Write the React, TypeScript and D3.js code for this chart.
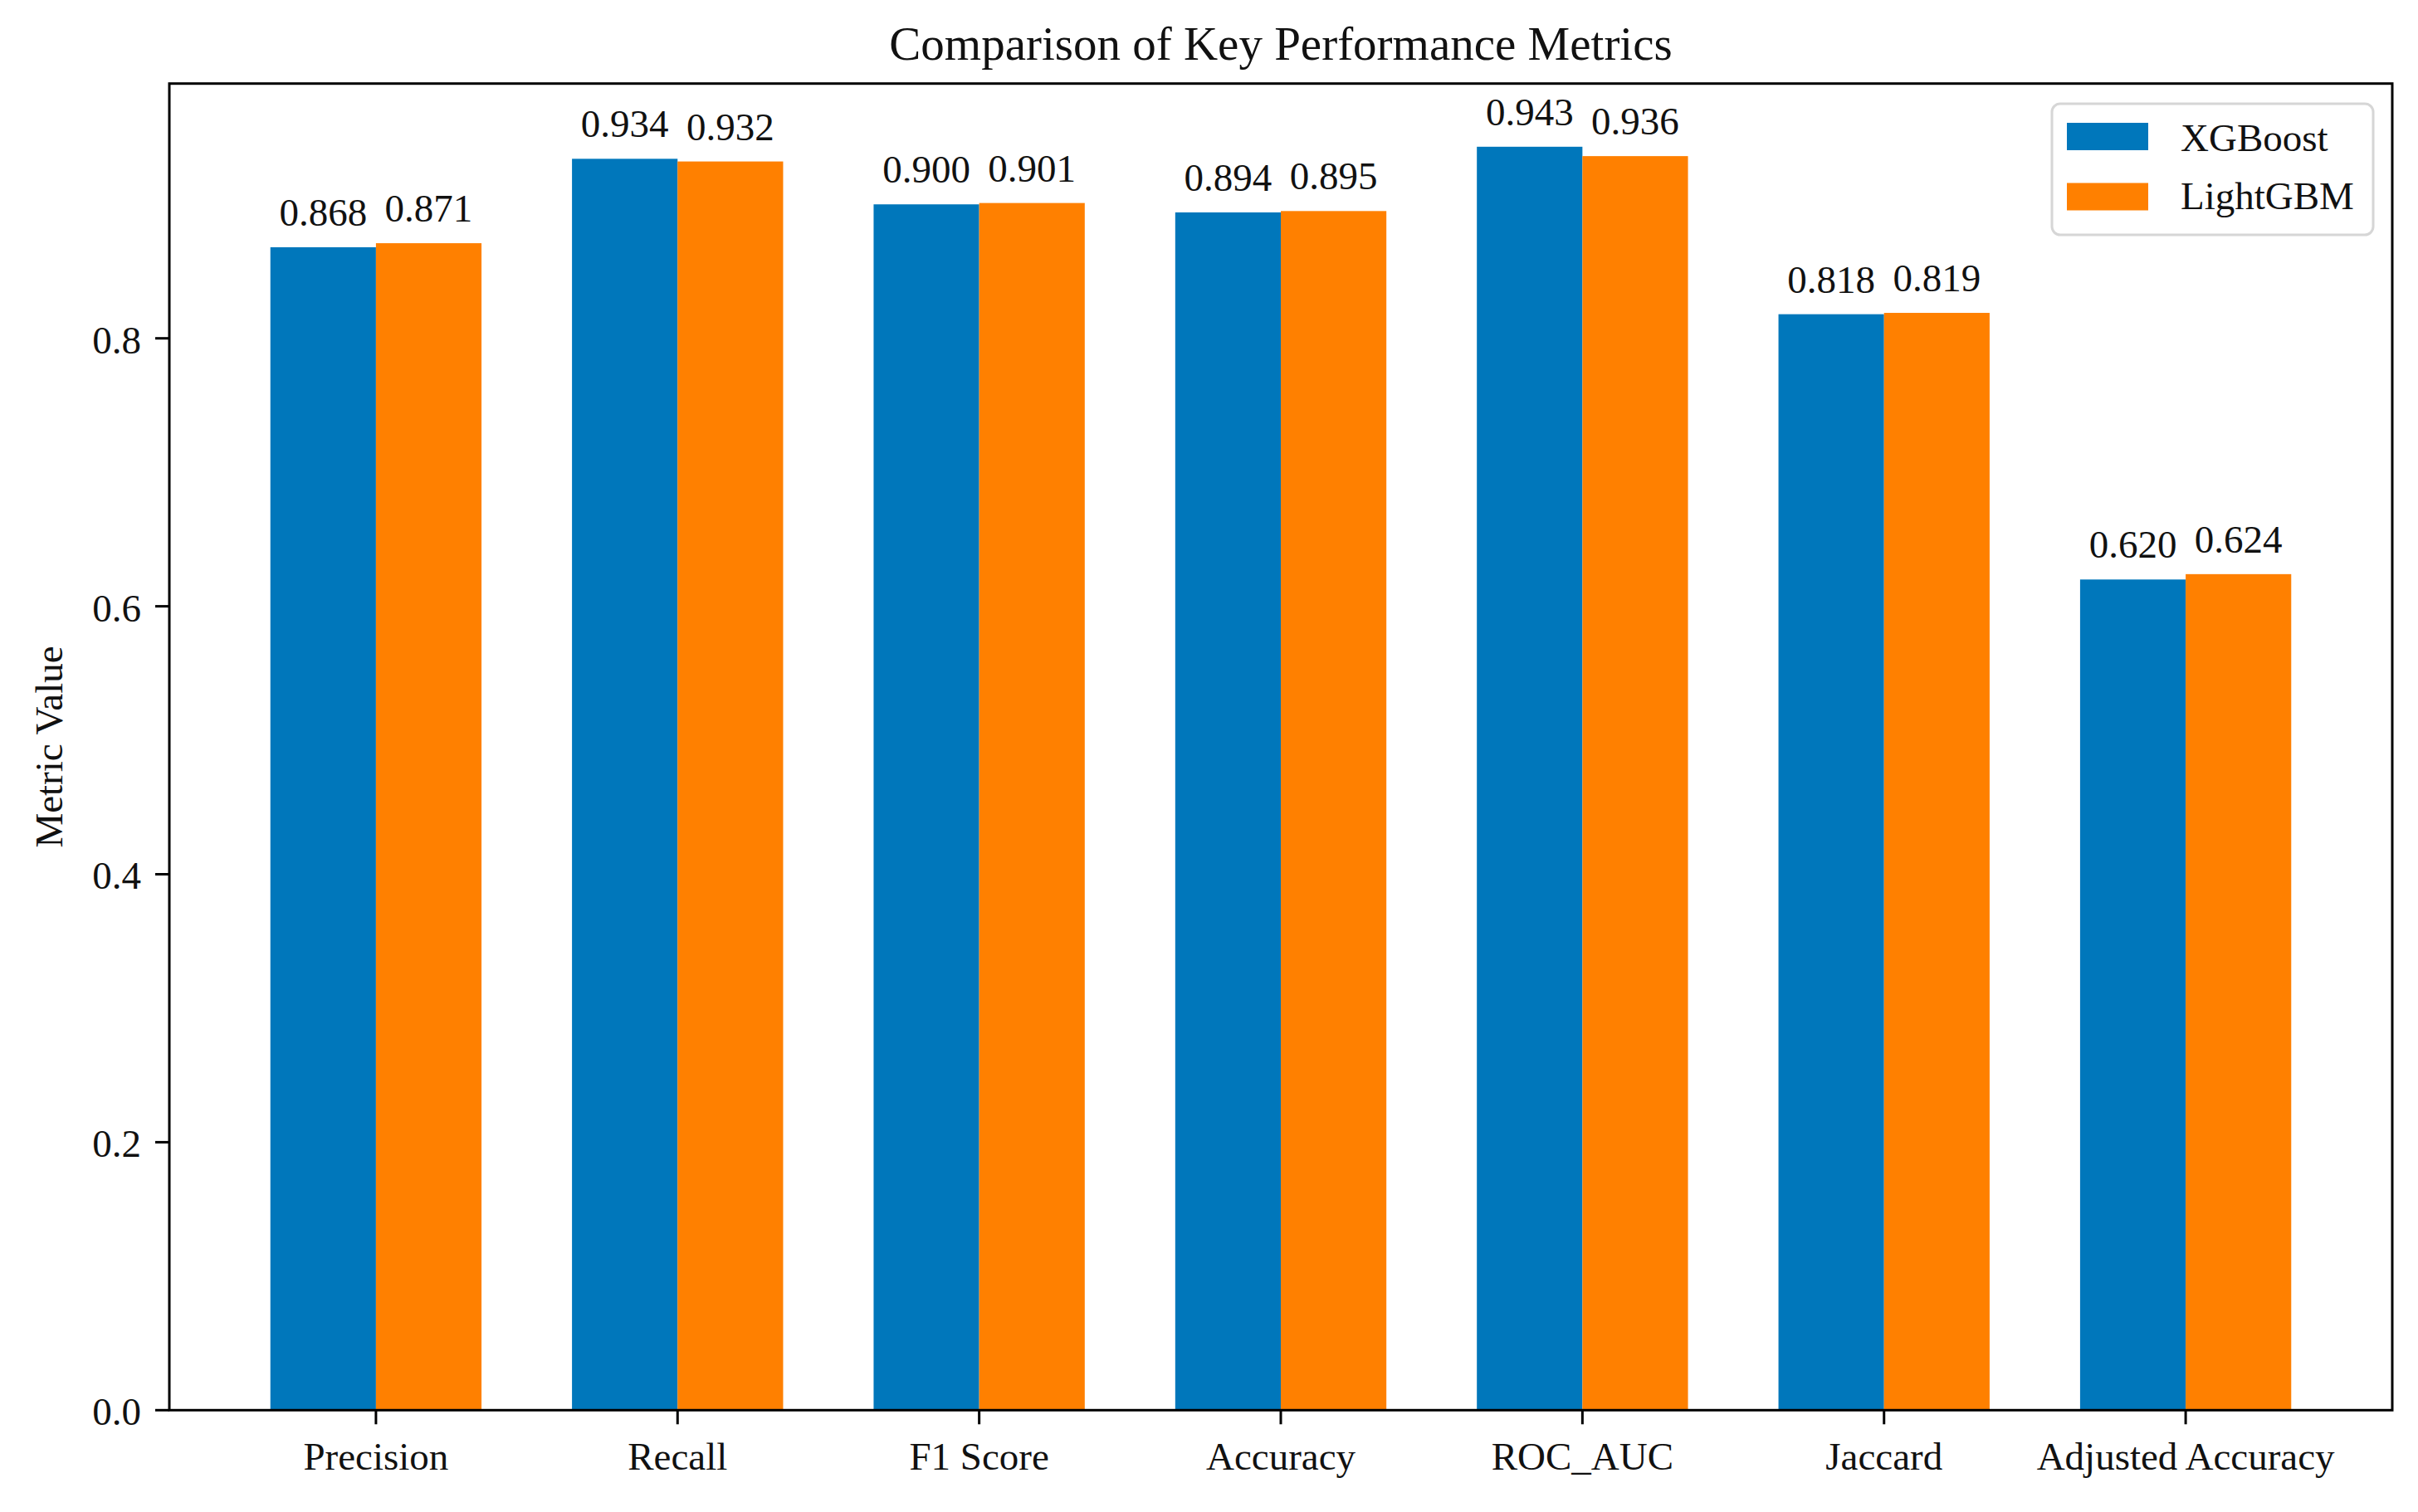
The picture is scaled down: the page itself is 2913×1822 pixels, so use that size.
import React from "react";
import * as d3 from "d3";

const categories = ["Precision", "Recall", "F1 Score", "Accuracy", "ROC_AUC", "Jaccard", "Adjusted Accuracy"];
const xgboostValues = [0.868, 0.934, 0.900, 0.894, 0.943, 0.818, 0.620];
const lightgbmValues = [0.871, 0.932, 0.901, 0.895, 0.936, 0.819, 0.624];
const seriesNames = ["XGBoost", "LightGBM"];
const yTicks = [0.0, 0.2, 0.4, 0.6, 0.8];

const W = 2913;
const H = 1822;
const left = 204;
const right = 2882;
const top = 100.7;
const bottom = 1699.3;
const barW = 0.35;
const colors = ["#0077BB", "#FF8000"];
const font = "'Liberation Serif', 'Times New Roman', Times, serif";
const fs = 47;

export default function App() {
  const maxV = d3.max([...xgboostValues, ...lightgbmValues]) as number;
  const y = d3.scaleLinear().domain([0, maxV * 1.05]).range([bottom, top]);
  const n = categories.length;
  const pad = (n - 1 + 2 * barW) * 0.05 + barW;
  const x = d3.scaleLinear().domain([-pad, n - 1 + pad]).range([left, right]);
  const series = [xgboostValues, lightgbmValues];

  return (
    <svg width={W} height={H} style={{ position: "absolute", left: 0, top: 0, background: "#fff" }} fontFamily={font}>
      <rect x={0} y={0} width={W} height={H} fill="#fff" />
      {series.map((vals, si) =>
        vals.map((v, i) => {
          const x0 = si === 0 ? x(i - barW) : x(i);
          const x1 = si === 0 ? x(i) : x(i + barW);
          return (
            <g key={`${si}-${i}`}>
              <rect x={x0} y={y(v)} width={x1 - x0} height={bottom - y(v)} fill={colors[si]} />
              <text x={(x0 + x1) / 2} y={y(v) - 26} textAnchor="middle" fontSize={fs} fill="#111">
                {v.toFixed(3)}
              </text>
            </g>
          );
        })
      )}
      {/* axes frame */}
      <rect x={left} y={top} width={right - left} height={bottom - top} fill="none" stroke="#000" strokeWidth={3} />
      {/* y ticks */}
      {yTicks.map((t) => (
        <g key={t}>
          <line x1={left - 17} x2={left} y1={y(t)} y2={y(t)} stroke="#000" strokeWidth={3} />
          <text x={170} y={y(t) + 18} textAnchor="end" fontSize={fs} fill="#111">
            {t.toFixed(1)}
          </text>
        </g>
      ))}
      {/* x ticks */}
      {categories.map((c, i) => (
        <g key={c}>
          <line x1={x(i)} x2={x(i)} y1={bottom} y2={bottom + 17} stroke="#000" strokeWidth={3} />
          <text x={x(i)} y={1771} textAnchor="middle" fontSize={fs} fill="#111">
            {c}
          </text>
        </g>
      ))}
      {/* y label */}
      <text transform={`translate(75, ${(top + bottom) / 2}) rotate(-90)`} textAnchor="middle" fontSize={fs} fill="#111">
        Metric Value
      </text>
      {/* title */}
      <text x={(left + right) / 2} y={72} textAnchor="middle" fontSize={57} fill="#111">
        Comparison of Key Performance Metrics
      </text>
      {/* legend */}
      <rect x={2472} y={125} width={387} height={158} rx={10} fill="#fff" fillOpacity={0.8} stroke="#d6d6d6" strokeWidth={3} />
      {seriesNames.map((s, i) => (
        <g key={s}>
          <rect x={2490} y={148 + i * 72.5} width={98} height={33} fill={colors[i]} />
          <text x={2627} y={182 + i * 70} fontSize={fs} fill="#111">
            {s}
          </text>
        </g>
      ))}
    </svg>
  );
}
